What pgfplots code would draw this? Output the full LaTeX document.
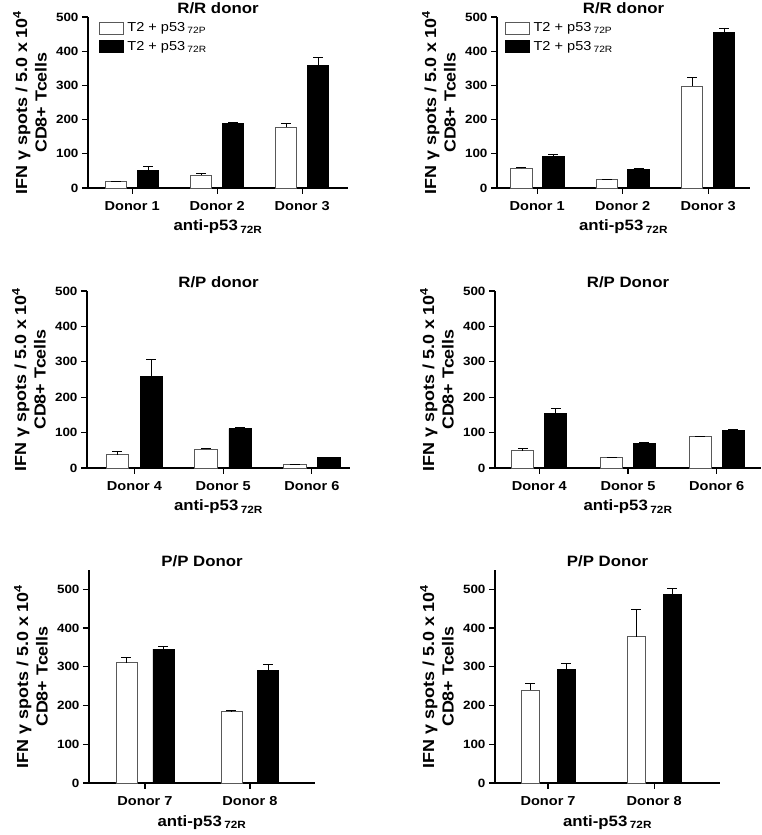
\documentclass[border=0pt]{standalone}
\usepackage{fontspec}
\setmainfont[FakeStretch=1.12]{Liberation Sans}
\usepackage{pgfplots}
\pgfplotsset{compat=1.18}

\pgfplotsset{
  panel/.style={
    scale only axis,
    anchor=south west,
    axis lines*=left,
    ymin=0, ymax=500, ytick={0,100,...,500},
    xtick={0,1,2},
    tick align=outside,
    major tick length=6pt,
    tick style={line width=1.2pt, black},
    axis line style={line width=1.2pt, black},
    /pgf/number format/assume math mode=true,
    clip=false,
    yticklabel style={font=\fontsize{12}{13}\selectfont\bfseries},
    xticklabel style={font=\fontsize{13}{14}\selectfont\bfseries, anchor=base, yshift=-17pt},
    every axis title/.style={at={(axis description cs:0.5,1)}, anchor=base, yshift=3pt, font=\fontsize{15}{17}\selectfont\bfseries},
    every axis y label/.style={at={(axis description cs:0,0.5)}, xshift=-58pt, rotate=90, anchor=center, align=center, font=\fontsize{16}{19.5}\selectfont\bfseries},
    ylabel={IFN γ spots / 5.0 x 10\textsuperscript{4}\\CD8+ Tcells},
    every axis x label/.style={at={(axis description cs:0.5,0)}, anchor=base, yshift=-43pt, font=\fontsize{15}{17}\selectfont\bfseries},
    xlabel={anti-p53\,\textsubscript{72R}},
    legend image code/.code={\draw[#1, line width=0.8pt] (0pt,-6pt) rectangle (24pt,6pt);},
    legend style={draw=none, fill=none, anchor=north west, font=\fontsize{13}{14}\selectfont, row sep=4pt, inner sep=0pt, column sep=2pt},
    legend cell align=left,
  },
  wbar/.style={ybar, bar shift=0pt, fill=white, draw=black!65, line width=0.8pt,
    error bars/y dir=plus, error bars/y explicit,
    error bars/error bar style={black, line width=0.8pt},
    error bars/error mark options={black, rotate=90, mark size=5pt, line width=0.8pt}},
  bbar/.style={ybar, bar shift=0pt, fill=black, draw=black, line width=0.8pt,
    error bars/y dir=plus, error bars/y explicit,
    error bars/error bar style={black, line width=0.8pt},
    error bars/error mark options={black, rotate=90, mark size=5pt, line width=0.8pt}},
}

\begin{document}
\begin{tikzpicture}
\path[use as bounding box] (0pt,0pt) rectangle (762pt,835pt);

% Panel 1
\begin{axis}[panel, at={(88pt,647pt)}, width=260pt, height=171pt,
  xmin=-0.52, xmax=2.54, title={R/R donor},
  xticklabels={Donor 1,Donor 2,Donor 3},
  legend style={at={(axis description cs:0.04,0.98)}}]
\addplot[wbar, bar width=21pt] coordinates {(-0.188,19) +- (0,1) (0.812,38) +- (0,5) (1.812,177) +- (0,11)};
\addplot[bbar, bar width=21pt] coordinates {(0.188,50) +- (0,14) (1.188,189) +- (0,2) (2.188,357) +- (0,24)};
\addlegendentry{T2 + p53\,\textsubscript{72P}}
\addlegendentry{T2 + p53\,\textsubscript{72R}}
\end{axis}

% Panel 2
\begin{axis}[panel, at={(497pt,647pt)}, width=253pt, height=171pt,
  xmin=-0.47, xmax=2.49, title={R/R donor},
  xticklabels={Donor 1,Donor 2,Donor 3},
  legend style={at={(axis description cs:0.03,0.98)}}]
\addplot[wbar, bar width=21.5pt] coordinates {(-0.187,57) +- (0,3) (0.813,24) +- (0,2) (1.813,297) +- (0,25)};
\addplot[bbar, bar width=21.5pt] coordinates {(0.187,92) +- (0,5) (1.187,54) +- (0,4) (2.187,455) +- (0,13)};
\addlegendentry{T2 + p53\,\textsubscript{72P}}
\addlegendentry{T2 + p53\,\textsubscript{72R}}
\end{axis}

% Panel 3
\begin{axis}[panel, at={(87pt,367pt)}, width=263pt, height=177pt,
  xmin=-0.535, xmax=2.43, title={R/P donor},
  xticklabels={Donor 4,Donor 5,Donor 6}]
\addplot[wbar, bar width=22.5pt] coordinates {(-0.192,37) +- (0,11) (0.808,53) +- (0,3) (1.808,10) +- (0,1)};
\addplot[bbar, bar width=22.5pt] coordinates {(0.192,258) +- (0,49) (1.192,111) +- (0,3) (2.192,30) +- (0,1)};
\end{axis}

% Panel 4
\begin{axis}[panel, at={(495pt,367pt)}, width=266pt, height=177pt,
  xmin=-0.50, xmax=2.50, title={R/P Donor},
  xticklabels={Donor 4,Donor 5,Donor 6}]
\addplot[wbar, bar width=22pt] coordinates {(-0.186,49) +- (0,5) (0.814,29) +- (0,2) (1.814,89) +- (0,1)};
\addplot[bbar, bar width=22pt] coordinates {(0.186,153) +- (0,14) (1.186,69) +- (0,3) (2.186,106) +- (0,2)};
\end{axis}

% Panel 5
\begin{axis}[panel, at={(89pt,52pt)}, width=226pt, height=213pt,
  ymax=550, xtick={0,1},
  xmin=-0.533, xmax=1.62, title={P/P Donor},
  xticklabels={Donor 7,Donor 8}]
\addplot[wbar, bar width=21pt] coordinates {(-0.176,311) +- (0,14) (0.824,185) +- (0,2)};
\addplot[bbar, bar width=21pt] coordinates {(0.176,346) +- (0,6) (1.176,290) +- (0,17)};
\end{axis}

% Panel 6
\begin{axis}[panel, at={(495pt,52pt)}, width=225pt, height=213pt,
  ymax=550, xtick={0,1},
  xmin=-0.5, xmax=1.62, title={P/P Donor},
  xticklabels={Donor 7,Donor 8}]
\addplot[wbar, bar width=18pt] coordinates {(-0.17,240) +- (0,17) (0.83,378) +- (0,70)};
\addplot[bbar, bar width=18pt] coordinates {(0.17,294) +- (0,15) (1.17,488) +- (0,15)};
\end{axis}
\end{tikzpicture}
\end{document}
